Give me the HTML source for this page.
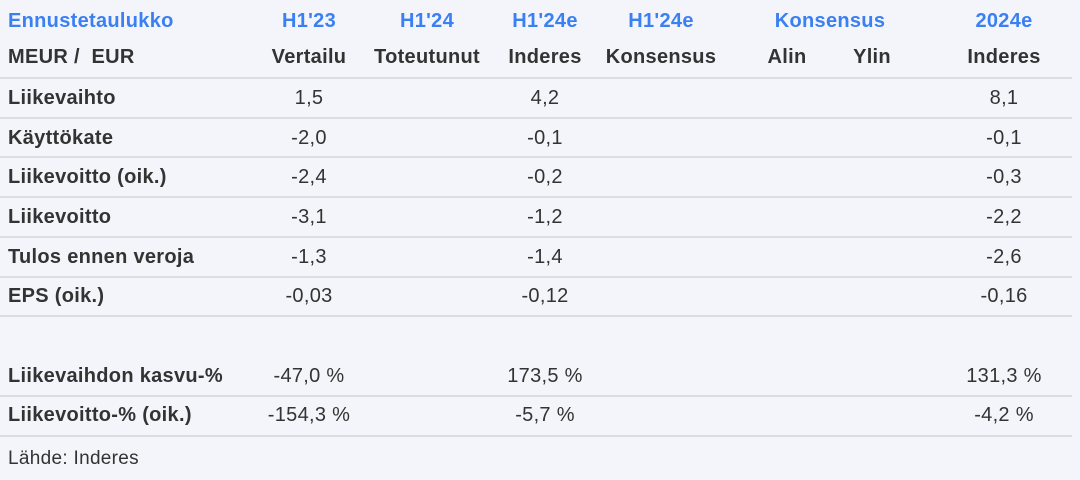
<!DOCTYPE html><html><head><style>
body{margin:0;width:1080px;height:480px;background:#f4f5fa;font-family:"Liberation Sans",Arial,sans-serif;position:relative;overflow:hidden;color:#333}
.t{position:absolute;font-size:20px;letter-spacing:0.3px;white-space:nowrap;transform:translateX(-50%)}
.l{position:absolute;font-size:20px;letter-spacing:0.3px;white-space:nowrap;left:8px}
.b{font-weight:bold}.bl{color:#3a80f2;font-weight:bold}
.h{position:absolute;left:0;width:1072px;height:2px;background:#dcdde2}
</style></head><body>
<div class="l bl" style="top:10px">Ennustetaulukko</div>
<div class="t bl" style="left:309px;top:10px">H1'23</div>
<div class="t bl" style="left:427px;top:10px">H1'24</div>
<div class="t bl" style="left:545px;top:10px">H1'24e</div>
<div class="t bl" style="left:661px;top:10px">H1'24e</div>
<div class="t bl" style="left:830px;top:10px">Konsensus</div>
<div class="t bl" style="left:1004px;top:10px">2024e</div>
<div class="l b" style="top:46px">MEUR /&nbsp; EUR</div>
<div class="t b" style="left:309px;top:46px">Vertailu</div>
<div class="t b" style="left:427px;top:46px">Toteutunut</div>
<div class="t b" style="left:545px;top:46px">Inderes</div>
<div class="t b" style="left:661px;top:46px">Konsensus</div>
<div class="t b" style="left:787px;top:46px">Alin</div>
<div class="t b" style="left:872px;top:46px">Ylin</div>
<div class="t b" style="left:1004px;top:46px">Inderes</div>
<div class="h" style="top:77px"></div>
<div class="l b" style="top:87px">Liikevaihto</div><div class="t" style="left:309px;top:87px">1,5</div><div class="t" style="left:545px;top:87px">4,2</div><div class="t" style="left:1004px;top:87px">8,1</div>
<div class="h" style="top:117px"></div>
<div class="l b" style="top:127px">Käyttökate</div><div class="t" style="left:309px;top:127px">-2,0</div><div class="t" style="left:545px;top:127px">-0,1</div><div class="t" style="left:1004px;top:127px">-0,1</div>
<div class="h" style="top:156px"></div>
<div class="l b" style="top:166px">Liikevoitto (oik.)</div><div class="t" style="left:309px;top:166px">-2,4</div><div class="t" style="left:545px;top:166px">-0,2</div><div class="t" style="left:1004px;top:166px">-0,3</div>
<div class="h" style="top:196px"></div>
<div class="l b" style="top:206px">Liikevoitto</div><div class="t" style="left:309px;top:206px">-3,1</div><div class="t" style="left:545px;top:206px">-1,2</div><div class="t" style="left:1004px;top:206px">-2,2</div>
<div class="h" style="top:236px"></div>
<div class="l b" style="top:246px">Tulos ennen veroja</div><div class="t" style="left:309px;top:246px">-1,3</div><div class="t" style="left:545px;top:246px">-1,4</div><div class="t" style="left:1004px;top:246px">-2,6</div>
<div class="h" style="top:276px"></div>
<div class="l b" style="top:285px">EPS (oik.)</div><div class="t" style="left:309px;top:285px">-0,03</div><div class="t" style="left:545px;top:285px">-0,12</div><div class="t" style="left:1004px;top:285px">-0,16</div>
<div class="h" style="top:315px"></div>
<div class="l b" style="top:365px">Liikevaihdon kasvu-%</div><div class="t" style="left:309px;top:365px">-47,0 %</div><div class="t" style="left:545px;top:365px">173,5 %</div><div class="t" style="left:1004px;top:365px">131,3 %</div>
<div class="h" style="top:395px"></div>
<div class="l b" style="top:404px">Liikevoitto-% (oik.)</div><div class="t" style="left:309px;top:404px">-154,3 %</div><div class="t" style="left:545px;top:404px">-5,7 %</div><div class="t" style="left:1004px;top:404px">-4,2 %</div>
<div class="h" style="top:435px"></div>
<div class="l" style="top:448px;font-size:19px">Lähde: Inderes</div>
</body></html>
